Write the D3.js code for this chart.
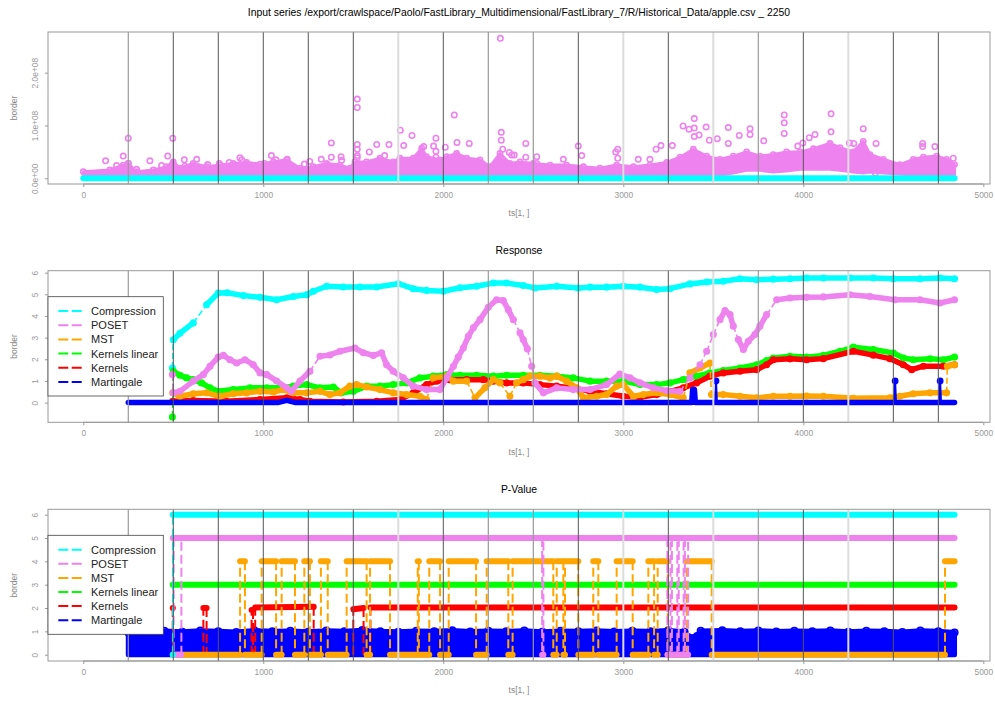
<!DOCTYPE html>
<html><head><meta charset="utf-8">
<script src="https://cdn.jsdelivr.net/npm/d3@7"></script>
<style>
body{margin:0;background:#fff}
svg{display:block}
text{font-family:"Liberation Sans",Arial,Helvetica,sans-serif}
</style>
</head><body>
<svg id="c" width="995" height="702"></svg>
<script>
// ---------------- DATA ----------------
const mainTitle = "Input series /export/crawlspace/Paolo/FastLibrary_Multidimensional/FastLibrary_7/R/Historical_Data/apple.csv _ 2250";
const panelTitles = [mainTitle, "Response", "P-Value"];
const xLabel = "ts[1, ]";
const yLabel = "border";
const xTickValues = [0, 1000, 2000, 3000, 4000, 5000];
const inputYTicks = [0, 1e8, 2e8];
const inputYTickLabels = ["0.0e+00", "1.0e+08", "2.0e+08"];
const scoreYTicks = [0, 1, 2, 3, 4, 5, 6];

const changeTs = [250,500,750,1000,1250,1500,1750,2000,2250,2500,2750,3000,3250,3500,3750,4000,4250,4500,4750];
const changeShade = ["mid","dark","dark","dark","dark","dark","light","dark","mid","mid","dark","light","dark","light","mid","dark","light","dark","dark"];

const seriesNames = ["Compression","POSET","MST","Kernels linear","Kernels","Martingale"];
const seriesColors = ["#00FFFF","#EE82EE","#FFA500","#00FF00","#FF0000","#0000FF"];

// Panel 1: input series (values in units of 1e8)
const inputTs = [0,148,222,250,296,389,463,500,537,611,685,759,833,907,982,1056,1130,1204,1278,1352,1426,1481,1509,1574,1648,1722,1759,1833,1880,1907,1981,2019,2074,2130,2204,2259,2315,2370,2426,2500,2593,2685,2778,2870,2963,3056,3148,3241,3315,3389,3463,3537,3611,3685,3759,3833,3907,3981,4056,4148,4204,4278,4333,4370,4444,4537,4611,4667,4741,4796,4840];
const inputHighE8 = [0.125,0.157,0.25,0.28,0.125,0.157,0.22,0.31,0.19,0.28,0.22,0.25,0.28,0.30,0.27,0.31,0.35,0.19,0.22,0.28,0.25,0.19,0.31,0.31,0.38,0.31,0.38,0.38,0.57,0.41,0.35,0.41,0.47,0.38,0.35,0.22,0.47,0.28,0.31,0.28,0.25,0.25,0.22,0.19,0.25,0.22,0.25,0.30,0.40,0.55,0.42,0.36,0.42,0.50,0.42,0.45,0.50,0.50,0.56,0.66,0.58,0.50,0.70,0.45,0.36,0.26,0.36,0.40,0.42,0.36,0.26];
const inputLowE8 = [0.04,0.04,0.04,0.04,0.04,0.04,0.04,0.04,0.04,0.04,0.04,0.04,0.04,0.04,0.04,0.04,0.04,0.04,0.04,0.04,0.04,0.04,0.04,0.04,0.04,0.04,0.04,0.04,0.04,0.04,0.04,0.04,0.04,0.04,0.04,0.04,0.04,0.04,0.04,0.04,0.04,0.04,0.04,0.04,0.04,0.04,0.04,0.04,0.04,0.04,0.04,0.06,0.1,0.15,0.15,0.12,0.14,0.17,0.17,0.17,0.15,0.12,0.1,0.12,0.1,0.08,0.06,0.05,0.05,0.05,0.05];
const inputOutTs = [124,185,222,250,250,296,370,435,469,497,497,561,565,630,691,756,811,870,880,1006,1045,1070,1133,1228,1258,1322,1378,1378,1432,1435,1522,1522,1522,1522,1522,1522,1589,1630,1674,1698,1761,1780,1826,1891,1946,1959,1959,1959,2011,2061,2076,2144,2317,2322,2322,2330,2367,2380,2394,2458,2458,2519,2519,2667,2750,2769,2958,2969,2969,3083,3148,3182,3209,3272,3332,3365,3394,3394,3394,3421,3460,3478,3522,3583,3583,3644,3704,3704,3780,3894,3894,3894,3969,3997,4033,4065,4154,4154,4256,4280,4333,4404,4400,4663,4663,4731,4833];
const inputOutE8 = [0.33,0.24,0.42,0.76,0.28,0.17,0.33,0.24,0.42,0.76,0.28,0.35,0.23,0.36,0.26,0.28,0.30,0.39,0.35,0.28,0.43,0.35,0.36,0.27,0.32,0.36,0.67,0.40,0.41,0.34,1.50,1.34,0.64,0.55,0.43,0.39,0.50,0.64,0.43,0.64,0.91,0.62,0.81,0.60,0.61,0.76,0.51,0.40,0.59,1.20,0.68,0.66,2.65,0.87,0.72,0.55,0.49,0.44,0.44,0.66,0.40,0.41,0.28,0.36,0.61,0.43,0.50,0.55,0.38,0.36,0.36,0.55,0.62,0.62,0.99,0.93,1.13,0.95,0.79,0.82,0.97,0.72,0.75,0.96,0.66,0.81,0.94,0.83,0.71,1.20,1.05,0.85,0.61,0.67,0.77,0.83,1.22,0.88,0.67,0.66,0.94,0.66,0.10,0.66,0.60,0.60,0.38];
const inputBaseTs = [0, 4840];
const inputBaseVal = [0, 0];

// Panel 2: Response
const respCompTs = [495,500,537,611,685,750,800,889,982,1074,1167,1241,1278,1352,1444,1537,1630,1750,1833,1907,2000,2093,2185,2278,2352,2444,2509,2630,2750,2815,2907,3000,3093,3185,3259,3370,3463,3555,3648,3741,3833,3926,4018,4111,4259,4389,4500,4648,4760,4840];
const respCompVal = [1.6,2.9,3.2,3.68,4.52,5.06,5.07,4.94,4.86,4.75,4.9,4.98,5.14,5.37,5.34,5.34,5.34,5.49,5.26,5.18,5.14,5.3,5.37,5.52,5.52,5.41,5.29,5.37,5.29,5.33,5.33,5.37,5.33,5.22,5.26,5.48,5.57,5.6,5.72,5.67,5.7,5.72,5.75,5.75,5.75,5.75,5.72,5.72,5.75,5.72];
const respPosetTs = [495,500,537,611,667,704,750,778,815,852,898,944,982,1019,1074,1130,1157,1204,1259,1315,1370,1426,1509,1556,1611,1657,1685,1722,1778,1833,1907,1981,2019,2056,2083,2111,2139,2167,2204,2250,2296,2333,2361,2389,2426,2444,2467,2491,2509,2556,2630,2722,2815,2907,2981,3037,3093,3167,3241,3315,3370,3426,3463,3500,3537,3565,3593,3611,3639,3667,3694,3731,3759,3796,3852,3926,4018,4111,4259,4370,4509,4648,4759,4840];
const respPosetVal = [1.3,0.45,0.52,0.99,1.29,1.68,2.1,2.18,1.98,1.83,1.98,1.75,1.37,1.29,1.0,0.68,0.52,1.0,1.45,2.14,2.2,2.37,2.52,2.3,2.18,2.3,1.75,1.45,1.14,0.76,0.6,0.6,1.14,1.68,2.1,2.52,3.06,3.45,3.83,4.4,4.75,4.71,4.29,3.83,3.22,2.91,2.48,1.68,0.91,0.45,0.68,0.6,0.6,0.83,1.32,1.14,0.91,0.68,0.55,0.52,1.14,1.75,2.37,3.14,3.83,4.25,4.06,3.53,2.91,2.45,2.83,3.14,3.53,4.06,4.75,4.83,4.86,4.88,4.98,4.9,4.75,4.75,4.6,4.75];
const respMstTs = [497,537,611,685,759,833,907,982,1056,1111,1167,1241,1315,1370,1426,1481,1518,1574,1648,1722,1796,1870,1907,1944,2019,2056,2130,2176,2231,2278,2315,2370,2407,2444,2481,2537,2593,2630,2685,2741,2778,2852,2907,2963,3000,3056,3111,3185,3259,3333,3370,3426,3481,3490,3555,3648,3741,3833,3926,4018,4111,4278,4481,4537,4611,4704,4796,4800,4840];
const respMstVal = [0.45,0.29,0.41,0.45,0.29,0.41,0.45,0.52,0.49,0.6,0.45,0.45,0.52,0.37,0.45,0.76,0.83,0.72,0.6,0.45,0.37,0.29,0.14,1.14,1.22,0.99,0.99,0.22,0.68,1.06,0.91,0.29,0.91,1.06,1.22,1.22,1.14,1.22,0.99,0.68,0.22,0.29,0.37,0.76,0.83,0.29,0.37,0.45,0.37,0.22,1.37,1.6,1.83,0.37,0.37,0.29,0.22,0.29,0.29,0.3,0.29,0.2,0.22,0.29,0.41,0.45,0.45,1.68,1.75];
const respKlinTs = [495,500,537,574,611,657,704,750,833,926,1019,1093,1167,1241,1315,1389,1435,1500,1574,1648,1722,1796,1870,1944,2019,2093,2185,2278,2352,2444,2537,2630,2722,2815,2907,3000,3093,3185,3259,3333,3407,3481,3555,3648,3741,3796,3833,3926,4018,4111,4204,4278,4389,4500,4556,4611,4704,4778,4840];
const respKlinVal = [-0.67,1.45,1.26,1.14,1.06,0.91,0.68,0.52,0.6,0.68,0.68,0.68,0.76,0.83,0.68,0.72,0.45,0.52,0.76,0.76,0.83,0.91,1.14,1.22,1.29,1.26,1.26,1.22,1.26,1.26,1.26,1.22,1.14,0.99,0.99,0.99,0.83,0.83,0.91,1.06,1.22,1.37,1.48,1.6,1.75,1.94,2.06,2.14,2.1,2.18,2.37,2.56,2.45,2.29,2.06,1.98,2.02,1.98,2.1];
const respKernTs = [497,611,796,982,1130,1204,1259,1444,1630,1759,1833,1907,1963,2037,2130,2222,2278,2352,2444,2537,2630,2722,2815,2907,3000,3093,3185,3259,3333,3407,3481,3555,3648,3741,3796,3833,3926,4018,4111,4278,4389,4481,4556,4602,4667,4778,4840];
const respKernVal = [0.06,0.1,0.06,0.14,0.22,0.14,0.06,0.03,0.06,0.14,0.45,0.83,0.99,1.06,1.06,1.06,0.99,0.91,0.91,0.83,0.76,0.68,0.52,0.41,0.29,0.25,0.37,0.52,0.68,0.91,1.22,1.37,1.45,1.52,1.75,1.98,2.02,1.98,2.03,2.37,2.19,2.03,1.75,1.52,1.68,1.68,1.75];
const respMartTs = [250,1080,1130,1180,3380,3385,3395,3400,3510,3515,3520,4505,4510,4515,4755,4760,4765,4840];
const respMartVal = [0,0,0.1,0,0,0.6,0.6,0,0,1.0,0,0,1.0,0,0,1.0,0,0];

// Panel 3: P-Value
const pvCompTs = [497,497,4840];
const pvCompVal = [0,6,6];
const pvPosetTs = [497,4840];
const pvPosetVal = [5,5];
const pvPosetDipVal = 0;
const pvPosetDips = [[502,545],[2549,2556],[3245,3262],[3270,3300],[3308,3335],[3342,3360]];
const pvKlinTs = [497,4840];
const pvKlinVal = [3,3];
const pvKernTs = [497,497,667,667,685,685,935,935,943,943,955,955,1280,1280,1500,1500,1557,1557,1595,1595,4840];
const pvKernVal = [2,0,0,2,2,0,0,1.92,1.92,0,0,2.02,2.05,0,0,1.95,2.0,0,0,2.02,2.02];
const pvMstStart = 497, pvMstEnd = 4840, pvMstLow = 0, pvMstHighVal = 4;
const pvMstHighIntervals = [[871,898],[991,1071],[1102,1176],[1228,1259],[1320,1358],[1463,1574],[1593,1704],[1858,1864],[1922,1982],[2030,2182],[2241,2361],[2385,2611],[2630,2667],[2676,2750],[2833,2861],[2963,3052],[3139,3171],[3191,3247],[3352,3491],[4787,4840]];
const pvMartTs = [250,350,450,550,650,750,850,950,1050,1150,1250,1350,1450,1550,1650,1750,1850,1950,2050,2150,2250,2350,2450,2550,2650,2750,2850,2950,3050,3150,3250,3340,3360,3410,3430,3550,3650,3750,3850,3950,4050,4150,4250,4350,4450,4550,4650,4750,4840];
const pvMartTop = [0.95,1.0,1.02,0.98,1.03,1.0,0.97,1.04,1.0,1.02,0.98,1.03,1.0,1.05,1.0,0.98,1.02,1.0,1.04,0.99,1.02,1.0,1.03,0.98,1.02,1.0,1.03,0.99,1.02,1.0,1.04,0.98,0.75,0.8,1.02,1.04,1.0,1.03,0.99,1.02,1.0,1.03,0.98,1.02,1.0,0.97,1.03,1.0,0.95];

// ---------------- DRAWING ----------------
const svg = d3.select("#c");
const x = d3.scaleLinear().domain([-196, 5037]).range([48, 990]);
const panels = [
  {top: 32, bottom: 184, dom: [-0.108e8, 2.77e8], ticks: inputYTicks, fmt: (d,i) => inputYTickLabels[i]},
  {top: 270.7, bottom: 422.3, dom: [-0.91, 6.09], ticks: scoreYTicks, fmt: d => d},
  {top: 509.3, bottom: 661, dom: [-0.27, 6.23], ticks: scoreYTicks, fmt: d => d}
];
const shadeStyle = {dark: {c: "#555", w: 1}, mid: {c: "#999", w: 1.2}, light: {c: "#dcdcdc", w: 2}};
const line = d3.line().x(d => d.x).y(d => d.y);

function drawSeries(g, y, ts, vals, color, o) {
  const pts = ts.map((t, i) => ({x: x(t), y: y(vals[i]), v: vals[i]}));
  const runs = [], jumps = [];
  let run = [pts[0]];
  for (let i = 1; i < pts.length; i++) {
    if (Math.abs(pts[i].v - pts[i-1].v) > o.jump) {
      runs.push(run); jumps.push([pts[i-1], pts[i]]); run = [pts[i]];
    } else run.push(pts[i]);
  }
  runs.push(run);
  jumps.forEach(j => g.append("path").attr("d", line(j)).attr("fill", "none")
    .attr("stroke", color).attr("stroke-width", o.thin || 2)
    .attr("stroke-dasharray", o.dash === undefined ? "9,4" : o.dash));
  runs.forEach(r => {
    if (o.hide !== undefined && r.every(p => p.v === o.hide)) return;
    const d = r.length > 1 ? line(r) : `M${r[0].x},${r[0].y}h0.1`;
    g.append("path").attr("d", d).attr("fill", "none").attr("stroke", color)
      .attr("stroke-width", o.thick).attr("stroke-linecap", "round").attr("stroke-linejoin", "round");
  });
  if (o.r) {
    g.selectAll(null).data(pts).join("circle").attr("cx", d => d.x).attr("cy", d => d.y)
      .attr("r", o.r).attr("fill", "none").attr("stroke", color).attr("stroke-width", 1.5);
  }
}

function frame(p, i) {
  const g = svg.append("g");
  const y = d3.scaleLinear().domain(p.dom).range([p.bottom, p.top]);
  p.y = y;
  svg.append("text").attr("x", 519).attr("y", p.top - 19).attr("text-anchor", "middle")
    .attr("dominant-baseline", "middle").attr("font-size", 10.4).attr("fill", "#000")
    .text(panelTitles[i]);
  const xa = svg.append("g").attr("transform", `translate(0,${p.bottom})`)
    .call(d3.axisBottom(x).tickValues(xTickValues).tickSize(3).tickPadding(5).tickFormat(d3.format("d")));
  xa.select(".domain").remove();
  xa.selectAll("line").attr("stroke", "#999");
  xa.selectAll("text").attr("fill", "#999").attr("font-size", 8.4).attr("font-family", "Liberation Sans, Arial, sans-serif");
  svg.append("line").attr("x1", x(0)).attr("x2", x(5000)).attr("y1", p.bottom).attr("y2", p.bottom).attr("stroke", "#999");
  const ya = svg.append("g").attr("transform", `translate(48,0)`)
    .call(d3.axisLeft(y).tickValues(p.ticks).tickSize(3).tickFormat(p.fmt));
  ya.select(".domain").remove();
  ya.selectAll("line").attr("stroke", "#999");
  ya.selectAll("text").attr("fill", "#999").attr("font-size", 8.4).attr("font-family", "Liberation Sans, Arial, sans-serif")
    .attr("transform", "rotate(-90)").attr("x", 0).attr("y", -10).attr("dy", 0).attr("text-anchor", "middle");
  svg.append("text").attr("x", 519).attr("y", p.bottom + 30).attr("text-anchor", "middle")
    .attr("dominant-baseline", "middle").attr("font-size", 8.5).attr("fill", "#888").text(xLabel);
  svg.append("text").attr("transform", `translate(15,${(p.top + p.bottom) / 2}) rotate(-90)`)
    .attr("text-anchor", "middle").attr("dominant-baseline", "middle").attr("font-size", 8.5).attr("fill", "#888").text(yLabel);
  return g;
}

function vlines(p) {
  svg.append("g").selectAll("line").data(changeTs).join("line")
    .attr("x1", d => x(d)).attr("x2", d => x(d)).attr("y1", p.top).attr("y2", p.bottom)
    .attr("stroke", (d, i) => shadeStyle[changeShade[i]].c)
    .attr("stroke-width", (d, i) => shadeStyle[changeShade[i]].w);
}

function box(p) {
  svg.append("rect").attr("x", 48).attr("y", p.top).attr("width", 942).attr("height", p.bottom - p.top)
    .attr("fill", "none").attr("stroke", "#999").attr("stroke-width", 1);
}

function legend(top, bottom, rowY, rowStep) {
  const g = svg.append("g");
  g.append("rect").attr("x", 48).attr("y", top).attr("width", 115.3).attr("height", bottom - top)
    .attr("fill", "#fff").attr("stroke", "#444").attr("stroke-width", 0.8);
  seriesNames.forEach((n, i) => {
    const yy = rowY + i * rowStep;
    g.append("line").attr("x1", 58.3).attr("x2", 81.7).attr("y1", yy).attr("y2", yy)
      .attr("stroke", seriesColors[i]).attr("stroke-width", 2).attr("stroke-dasharray", "10,3.4");
    g.append("text").attr("x", 91).attr("y", yy).attr("dominant-baseline", "central")
      .attr("font-size", 11).attr("fill", "#222").text(n);
  });
}

// ----- Panel 1 -----
const p1 = panels[0];
const g1 = frame(p1, 0);
const y1 = p1.y;
const inputPts = inputTs.map((t, i) => ({t, hi: inputHighE8[i] * 1e8, lo: inputLowE8[i] * 1e8}));
g1.append("path").datum(inputPts)
  .attr("d", d3.area().x(d => x(d.t)).y0(d => y1(d.lo)).y1(d => y1(d.hi)))
  .attr("fill", seriesColors[1]).attr("stroke", seriesColors[1]).attr("stroke-width", 3).attr("stroke-linejoin", "round");
g1.selectAll(null).data(inputPts).join("circle").attr("cx", d => x(d.t)).attr("cy", d => y1(d.hi))
  .attr("r", 2.6).attr("fill", "none").attr("stroke", seriesColors[1]).attr("stroke-width", 1.6);
g1.selectAll(null).data(inputOutTs.map((t, i) => [t, inputOutE8[i] * 1e8])).join("circle")
  .attr("cx", d => x(d[0])).attr("cy", d => y1(d[1])).attr("r", 2.7)
  .attr("fill", "none").attr("stroke", seriesColors[1]).attr("stroke-width", 1.6);
drawSeries(g1, y1, inputBaseTs, inputBaseVal, seriesColors[0], {jump: 1, thick: 6});
vlines(p1);
box(p1);

// ----- Panel 2 -----
const p2 = panels[1];
const g2 = frame(p2, 1);
const y2 = p2.y;
const o2 = {jump: 0.6, thick: 5.5, r: 2.8, thin: 1.6, dash: "6,3"};
drawSeries(g2, y2, respCompTs, respCompVal, seriesColors[0], o2);
drawSeries(g2, y2, respKlinTs, respKlinVal, seriesColors[3], o2);
drawSeries(g2, y2, respKernTs, respKernVal, seriesColors[4], o2);
drawSeries(g2, y2, respMstTs, respMstVal, seriesColors[2], o2);
drawSeries(g2, y2, respPosetTs, respPosetVal, seriesColors[1], o2);
drawSeries(g2, y2, respMartTs, respMartVal, seriesColors[5], {jump: 0.6, thick: 5.5, thin: 2, dash: "none"});
g2.selectAll(null).data(respMartTs.map((t, i) => [t, respMartVal[i]]).filter(d => d[1] >= 1)).join("circle")
  .attr("cx", d => x(d[0])).attr("cy", d => y2(d[1])).attr("r", 2.6)
  .attr("fill", "none").attr("stroke", seriesColors[5]).attr("stroke-width", 1.6);
vlines(p2);
box(p2);
legend(296.7, 396, 311, 14.2);

// ----- Panel 3 -----
const p3 = panels[2];
const g3 = frame(p3, 2);
const y3 = p3.y;
const martPts = pvMartTs.map((t, i) => ({t, v: pvMartTop[i]}));
g3.append("path").datum(martPts)
  .attr("d", d3.area().x(d => x(d.t)).y0(y3(0)).y1(d => y3(d.v)))
  .attr("fill", seriesColors[5]).attr("stroke", seriesColors[5]).attr("stroke-width", 5).attr("stroke-linejoin", "round");
g3.selectAll(null).data(martPts).join("circle").attr("cx", d => x(d.t)).attr("cy", d => y3(d.v))
  .attr("r", 3.2).attr("fill", "none").attr("stroke", seriesColors[5]).attr("stroke-width", 1.8);
const o3 = {jump: 0.5, thick: 6, thin: 2, dash: "9,4"};
drawSeries(g3, y3, pvKernTs, pvKernVal, seriesColors[4], Object.assign({hide: 0}, o3));
drawSeries(g3, y3, pvKlinTs, pvKlinVal, seriesColors[3], o3);
const mstTs = [pvMstStart], mstVal = [pvMstLow];
pvMstHighIntervals.forEach(([a, b]) => {
  mstTs.push(a, a, b); mstVal.push(pvMstLow, pvMstHighVal, pvMstHighVal);
  if (b < pvMstEnd) { mstTs.push(b); mstVal.push(pvMstLow); }
});
drawSeries(g3, y3, mstTs, mstVal, seriesColors[2], o3);
// POSET: constant level plus dips to 0
drawSeries(g3, y3, pvPosetTs, pvPosetVal, seriesColors[1], o3);
pvPosetDips.forEach(([a, b]) => {
  drawSeries(g3, y3, [a, a, b, b], [pvPosetVal[0], pvPosetDipVal, pvPosetDipVal, pvPosetVal[0]], seriesColors[1], o3);
});
drawSeries(g3, y3, pvCompTs, pvCompVal, seriesColors[0], Object.assign({}, o3, {thin: 1.6}));
vlines(p3);
box(p3);
legend(535.3, 634.3, 549.7, 14.1);
</script>
</body></html>
